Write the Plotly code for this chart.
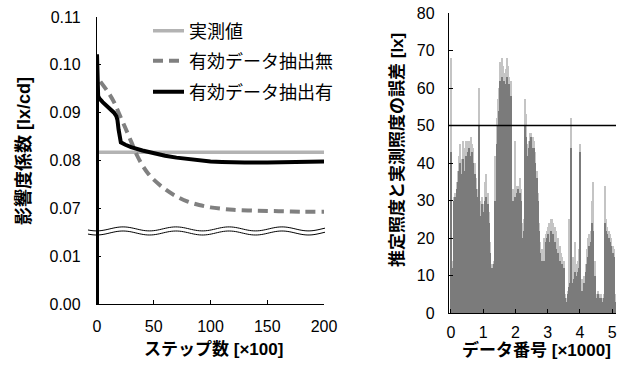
import plotly.graph_objects as go
import numpy as np

# ---------------- Left chart data ----------------
steps_measured = [0, 200]
coef_measured = [0.0817, 0.0817]

steps_no_extract = [3, 10, 15, 20, 25, 30, 35, 40, 45, 50, 60, 70, 80, 90, 100,
                    110, 120, 140, 160, 180, 200]
coef_no_extract = [0.0965, 0.0942, 0.0922, 0.0895, 0.0868, 0.0840, 0.0812, 0.0790,
                   0.0773, 0.0760, 0.0740, 0.0725, 0.0714, 0.0707, 0.0702, 0.0699,
                   0.0697, 0.0695, 0.0694, 0.0693, 0.0693]

steps_extract = [0, 0, 1, 2, 5, 10, 15, 17, 18, 19, 20, 21, 25, 30, 40, 50, 60, 70,
                 80, 90, 100, 110, 120, 130, 150, 170, 185, 200]
coef_extract = [0.0, 0.1022, 0.0935, 0.0930, 0.0922, 0.0912, 0.0900, 0.0893, 0.0885,
                0.0865, 0.0845, 0.0838, 0.0833, 0.0828, 0.0821, 0.0815, 0.0810,
                0.0806, 0.0803, 0.0800, 0.0798, 0.0797, 0.0796, 0.0796, 0.0796,
                0.0797, 0.0798, 0.0798]

left_ticks = [0.00, 0.01, 0.07, 0.08, 0.09, 0.10, 0.11]
left_ticktext = ["0.00", "0.01", "0.07", "0.08", "0.09", "0.10", "0.11"]
x_ticks_left = [0, 50, 100, 150, 200]

# ---------------- Right chart data ----------------
err_main = [43, 12, 30, 31, 33, 35, 38, 40, 37, 41, 38, 42, 40, 43, 44, 42, 43, 40, 37, 33,
            31, 50, 19, 26, 29, 27, 30, 31, 29, 24, 16, 12, 12, 13, 30, 45, 50, 54, 62, 63,
            60, 62, 61, 63, 60, 61, 58, 6, 30, 31, 31, 32, 33, 32, 30, 20, 22, 50, 47, 42,
            44, 46, 47, 44, 44, 40, 36, 30, 22, 16, 14, 12, 14, 19, 20, 21, 19, 22, 20, 21,
            19, 17, 15, 16, 14, 13, 13, 12, 4, 3, 5, 7, 8, 44, 8, 9, 11, 10, 11, 12,
            43, 6, 5, 8, 11, 13, 15, 18, 19, 24, 22, 10, 3, 4, 5, 4, 4, 3, 4, 24,
            22, 21, 20, 19, 18, 16, 15, 3]
err_peak = [68, 14, 31, 32, 35, 38, 42, 45, 41, 46, 44, 46, 45, 46, 46, 47, 45, 44, 40, 36,
            33, 60, 22, 30, 31, 29, 35, 37, 32, 27, 19, 13, 13, 14, 42, 52, 57, 60, 67, 68,
            66, 64, 65, 68, 66, 63, 62, 31, 33, 46, 33, 34, 34, 36, 33, 24, 25, 57, 53, 45,
            46, 48, 48, 47, 46, 43, 38, 32, 24, 19, 17, 14, 20, 21, 22, 23, 24, 25, 25, 24,
            23, 22, 19, 20, 18, 16, 15, 14, 5, 4, 6, 25, 10, 52, 15, 14, 19, 13, 14, 17,
            45, 9, 7, 10, 13, 17, 20, 21, 22, 30, 35, 14, 4, 5, 6, 5, 5, 4, 5, 34,
            25, 23, 22, 21, 20, 18, 17, 5]
bin_width = 0.04  # x1000 data points per bar
data_no = [round(0.02 + bin_width * i, 3) for i in range(len(err_main))]
threshold = 50
x_ticks_right = [0, 1, 2, 3, 4, 5]
y_ticks_right = [0, 10, 20, 30, 40, 50, 60, 70, 80]


def to_pos(v):
    """Broken axis: 0.00-0.01 and 0.07-0.11 stacked with equal spacing."""
    return v * 100 if v < 0.04 else 2 + (v - 0.07) * 100


W, H = 629, 372
FONT_LAT = "Liberation Sans, Arial, Noto Sans CJK JP"

fig = go.Figure()

fig.add_trace(go.Scatter(x=steps_measured, y=[to_pos(v) for v in coef_measured],
                         mode="lines", name="実測値",
                         line=dict(color="#b3b3b3", width=3.5),
                         xaxis="x", yaxis="y", legend="legend"))
fig.add_trace(go.Scatter(x=steps_no_extract, y=[to_pos(v) for v in coef_no_extract],
                         mode="lines", name="有効データ抽出無", line_shape="spline",
                         line=dict(color="#808080", width=4, dash="10px,6px"),
                         xaxis="x", yaxis="y", legend="legend2"))
fig.add_trace(go.Scatter(x=steps_extract, y=[to_pos(v) for v in coef_extract],
                         mode="lines", name="有効データ抽出有",
                         line=dict(color="#000000", width=4),
                         xaxis="x", yaxis="y", legend="legend3"))

fig.add_trace(go.Bar(x=data_no, y=err_peak, width=bin_width, marker_color="#c4c4c4",
                     marker_line_width=0, xaxis="x2", yaxis="y2", showlegend=False))
fig.add_trace(go.Bar(x=data_no, y=err_main, width=bin_width, marker_color="#7b7b7b",
                     marker_line_width=0, xaxis="x2", yaxis="y2", showlegend=False))


def px_x(p):
    return p / W


def px_y(p):
    return (H - p) / H


axis_common = dict(showline=True, linecolor="black", linewidth=1.3, ticks="inside",
                   ticklen=4, tickcolor="black", tickwidth=1.3, showgrid=False,
                   zeroline=False, mirror=False, automargin=False,
                   tickfont=dict(family=FONT_LAT, size=16, color="black"))

fig.update_layout(
    template="none",
    width=W, height=H, margin=dict(l=0, r=0, t=0, b=0, autoexpand=False),
    paper_bgcolor="white", plot_bgcolor="white", barmode="overlay", bargap=0,
    xaxis=dict(domain=[px_x(97), px_x(324)], range=[0, 200], tickvals=x_ticks_left,
               anchor="y", ticklabelstandoff=8, **axis_common),
    yaxis=dict(domain=[px_y(304), px_y(17)], range=[0, 6],
               tickvals=[to_pos(v) for v in left_ticks], ticktext=left_ticktext,
               anchor="x", ticklabelstandoff=12, **axis_common),
    xaxis2=dict(domain=[px_x(449), px_x(616)], range=[-0.06, 5.12], tickvals=x_ticks_right,
                anchor="y2", ticklabelstandoff=5, **axis_common),
    yaxis2=dict(domain=[px_y(313), px_y(13)], range=[0, 80], tickvals=y_ticks_right,
                anchor="x2", ticklabelstandoff=10, **axis_common),
)

leg_common = dict(xanchor="left", yanchor="middle", bgcolor="rgba(0,0,0,0)",
                  borderwidth=0, font=dict(family="Noto Sans CJK JP", size=18, color="black"),
                  itemwidth=31)
fig.update_layout(
    legend=dict(x=px_x(148), y=px_y(31), **leg_common),
    legend2=dict(x=px_x(148), y=px_y(61), **leg_common),
    legend3=dict(x=px_x(148), y=px_y(92), **leg_common),
)

# threshold line
fig.add_shape(type="line", xref="x2 domain", yref="y2", x0=0, x1=1, y0=threshold,
              y1=threshold, line=dict(color="black", width=1.3))

# axis break (wavy double line)
xs = np.linspace(88, 325, 120)
for yc in (228.9, 233.0):
    ys = yc - 2.0 * np.sin((xs - 123) / 53.0 * 2 * np.pi + np.pi / 2)
    path = "M " + " L ".join(f"{px_x(a):.5f},{px_y(b):.5f}" for a, b in zip(xs, ys))
    fig.add_shape(type="path", xref="paper", yref="paper", path=path, layer="above",
                  line=dict(color="black", width=1))

# axis titles
title_font = dict(family=FONT_LAT, size=18, color="black")
fig.add_annotation(text="<b>ステップ数 [×100]</b>", x=px_x(213), y=px_y(349),
                   xref="paper", yref="paper", showarrow=False, font=dict(title_font, size=17),
                   xanchor="center", yanchor="middle")
fig.add_annotation(text="<b>影響度係数 [lx/cd]</b>", x=px_x(23), y=px_y(151),
                   xref="paper", yref="paper", showarrow=False, font=title_font,
                   textangle=-90, xanchor="center", yanchor="middle")
fig.add_annotation(text="<b>データ番号 [×1000]</b>", x=px_x(536), y=px_y(350),
                   xref="paper", yref="paper", showarrow=False, font=dict(title_font, size=17),
                   xanchor="center", yanchor="middle")
fig.add_annotation(text="<b>推定照度と実測照度の誤差 [lx]</b>", x=px_x(397), y=px_y(150),
                   xref="paper", yref="paper", showarrow=False, font=dict(title_font, size=17),
                   textangle=-90, xanchor="center", yanchor="middle")

fig.write_html("out.html", config={"displayModeBar": False},
               post_script="document.body.style.margin='0';")
